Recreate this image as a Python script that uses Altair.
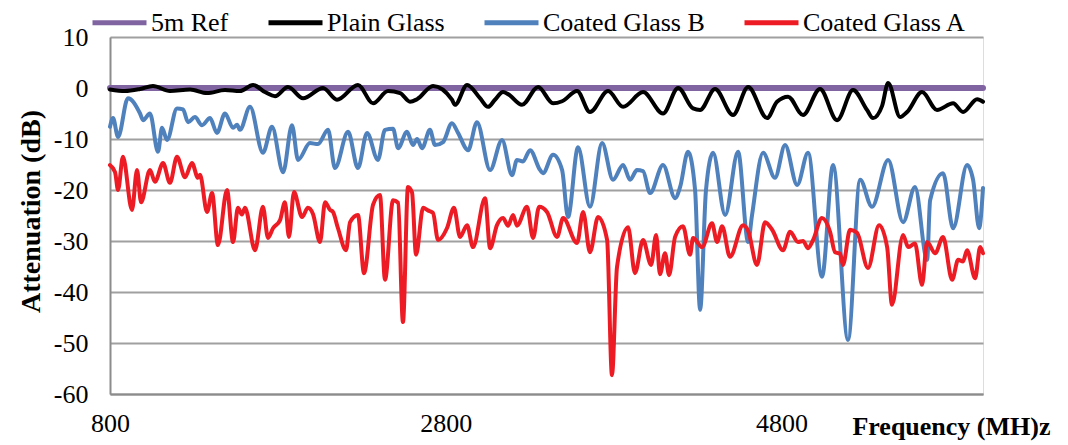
import altair as alt
import pandas as pd

series_names = ["5m Ref", "Plain Glass", "Coated Glass B", "Coated Glass A"]
series_colors = ["#8064A2", "#000000", "#4F81BD", "#ED1C24"]

x_ticks = [800, 2800, 4800]

freq_ref = [800, 6000]
att_ref = [0, 0]

freq_plain = [800, 889, 979, 1056, 1157, 1277, 1378, 1485, 1574, 1652, 1723, 1783, 1860, 1950,
              2069, 2152, 2277, 2367, 2456, 2528, 2587, 2629, 2724, 2837, 2855, 2927, 3004, 3052,
              3093, 3141, 3171, 3254, 3350, 3439, 3493, 3582, 3659, 3767, 3856, 3975, 4094, 4184,
              4273, 4315, 4404, 4511, 4601, 4714, 4773, 4839, 4928, 5029, 5131, 5226, 5309, 5345,
              5399, 5435, 5506, 5548, 5637, 5726, 5822, 5881, 5965, 6000]
att_plain = [-0.3, -0.6, -0.2, 0.4, -0.6, -0.3, -1.0, -0.4, -0.6, 0.6, -0.8, -1.6, 0.2, -2.0,
             0.0, -2.3, 0.6, -3.0, -0.6, -1.0, -2.7, -2.2, 0.4, -2.3, -3.3, 0.6, -2.0, -3.7,
             -2.3, -0.8, -1.2, -3.3, 0.2, -3.0, -2.6, -0.6, -4.7, -0.6, -3.7, -0.8, -5.0, 0.0,
             -4.0, -4.3, -0.2, -5.3, 0.2, -5.9, -2.7, -1.7, -5.3, -0.2, -6.3, -0.4, -4.3, -5.9,
             -3.5, 1.0, -5.7, -4.7, -0.8, -4.3, -3.0, -4.7, -2.2, -2.7]

freq_b = [800, 818, 848, 907, 979, 997, 1038, 1086, 1110, 1140, 1199, 1235, 1265, 1306, 1348,
          1396, 1437, 1485, 1533, 1557, 1574, 1634, 1711, 1765, 1831, 1884, 1920, 1991, 2039,
          2099, 2140, 2218, 2277, 2331, 2396, 2438, 2486, 2516, 2569, 2605, 2629, 2659, 2706,
          2736, 2784, 2837, 2873, 2933, 2986, 3064, 3135, 3195, 3224, 3260, 3302, 3362, 3379,
          3439, 3493, 3528, 3588, 3659, 3731, 3796, 3856, 3898, 3939, 3975, 4017, 4094, 4166,
          4196, 4243, 4285, 4315, 4350, 4392, 4464, 4541, 4601, 4624, 4690, 4761, 4821, 4893,
          4958, 5041, 5107, 5196, 5268, 5339, 5435, 5524, 5595, 5667, 5685, 5762, 5822, 5905,
          5941, 5977, 6000]
att_b = [-7.6, -5.9, -9.6, -2.0, -5.0, -6.3, -5.0, -12.5, -7.8, -10.2, -4.0, -4.2, -6.7, -5.7, -7.3,
         -5.9, -8.8, -5.0, -7.8, -7.2, -8.2, -3.7, -12.7, -7.6, -16.5, -7.3, -14.1, -10.8, -11.0,
         -8.2, -15.7, -8.6, -15.7, -8.8, -14.1, -8.2, -8.0, -11.8, -8.6, -11.2, -10.0, -11.8, -8.2,
         -11.2, -10.6, -6.9, -8.8, -12.2, -6.7, -16.1, -10.2, -17.1, -14.1, -14.4, -12.2, -16.1, -16.7,
         -13.1, -16.1, -25.3, -11.6, -23.3, -10.8, -18.0, -15.1, -18.0, -16.1, -16.3, -20.6, -15.1, -21.6,
         -19.4, -12.5, -20.0, -43.5, -20.0, -12.7, -24.9, -12.5, -30.2, -25.0, -12.7, -17.6, -11.2, -19.0,
         -12.7, -37.0, -15.1, -49.4, -18.0, -23.3, -14.1, -26.3, -19.4, -33.7, -22.0, -16.7, -27.5, -15.1,
         -18.0, -27.5, -19.6]

freq_a = [800, 830, 848, 877, 931, 961, 985, 1038, 1068, 1116, 1157, 1199, 1247, 1288, 1324, 1336,
          1378, 1408, 1443, 1497, 1533, 1562, 1586, 1604, 1664, 1711, 1741, 1771, 1813, 1842, 1866,
          1896, 1944, 1979, 2009, 2051, 2081, 2111, 2128, 2158, 2206, 2230, 2277, 2313, 2367, 2408,
          2438, 2486, 2516, 2545, 2575, 2599, 2623, 2665, 2694, 2724, 2754, 2807, 2849, 2885, 2927,
          2962, 3034, 3064, 3105, 3141, 3171, 3201, 3224, 3284, 3320, 3356, 3403, 3463, 3499, 3582,
          3618, 3659, 3707, 3761, 3790, 3820, 3886, 3927, 3975, 4023, 4053, 4076, 4106, 4130, 4166,
          4213, 4255, 4273, 4327, 4386, 4416, 4446, 4493, 4571, 4601, 4654, 4702, 4744, 4809, 4851,
          4898, 4928, 4958, 4988, 5041, 5089, 5119, 5149, 5166, 5208, 5250, 5315, 5381, 5429, 5458,
          5524, 5554, 5595, 5637, 5667, 5715, 5762, 5816, 5852, 5881, 5905, 5953, 5983, 6000]
att_a = [-15.1, -16.5, -20.0, -13.5, -23.9, -16.1, -22.4, -16.1, -18.4, -14.7, -18.6, -13.5, -17.5,
         -14.7, -17.6, -17.0, -24.3, -20.6, -30.8, -20.0, -30.2, -23.5, -24.8, -23.5, -31.8, -23.3,
         -29.4, -27.5, -25.9, -22.4, -29.2, -20.4, -25.3, -23.5, -24.7, -30.2, -22.4, -23.9, -24.3,
         -27.5, -31.8, -26.3, -24.9, -36.3, -22.9, -21.0, -37.6, -22.0, -22.5, -45.9, -19.4, -20.5,
         -32.7, -23.5, -24.0, -24.5, -29.8, -27.5, -23.5, -29.2, -26.9, -31.2, -21.6, -31.4, -26.9,
         -25.5, -27.0, -24.9, -27.0, -23.3, -29.4, -23.3, -24.3, -29.2, -25.5, -30.4, -24.3, -32.2,
         -25.3, -29.8, -56.3, -35.1, -27.3, -36.3, -29.8, -34.7, -28.8, -36.5, -32.4, -36.7, -29.2,
         -27.1, -32.7, -29.4, -31.2, -26.5, -30.2, -27.1, -33.1, -26.9, -28.0, -34.7, -26.3, -27.8,
         -31.8, -28.2, -30.2, -30.0, -31.4, -29.8, -25.5, -28.2, -32.2, -32.5, -34.7, -27.8, -28.4,
         -35.3, -26.9, -31.2, -42.5, -28.8, -31.2, -30.5, -38.6, -30.2, -32.4, -29.2, -37.6, -33.7,
         -34.0, -31.8, -37.3, -31.2, -32.4]


def frame(name, freqs, atts):
    return pd.DataFrame({"freq": freqs, "att": atts, "series": name})


dfs = [
    frame(series_names[0], freq_ref, att_ref),
    frame(series_names[1], freq_plain, att_plain),
    frame(series_names[2], freq_b, att_b),
    frame(series_names[3], freq_a, att_a),
]
widths = [6, 4, 4, 4]

FONT = "Liberation Serif"

x_enc = alt.X(
    "freq:Q",
    scale=alt.Scale(domain=[800, 6000], nice=False, zero=False),
    axis=alt.Axis(
        values=x_ticks, labelExpr="datum.value + ''", grid=False, ticks=False,
        domainColor="#8C8C8C", domainWidth=2, labelFont=FONT, labelFontSize=26,
        labelColor="#000000", labelPadding=16, labelFlush=False,
        title="Frequency (MH)z", titleFont=FONT, titleFontSize=26, titleFontWeight="bold",
        titleColor="#000000", titleAlign="right", titleBaseline="alphabetic",
        titleX=940, titleY=40, titleAnchor="end",
    ),
)
y_enc = alt.Y(
    "att:Q",
    scale=alt.Scale(domain=[-60, 10], nice=False, zero=False),
    axis=alt.Axis(
        values=[10, 0, -10, -20, -30, -40, -50, -60], labelExpr="datum.value + ''",
        grid=True, gridColor="#A0A0A0", gridWidth=2, ticks=False,
        domainColor="#8C8C8C", domainWidth=2, labelFont=FONT, labelFontSize=26,
        labelColor="#000000", labelPadding=22, labelFlush=False,
        title="Attenuation (dB)", titleFont=FONT, titleFontSize=28, titleFontWeight="bold",
        titleColor="#000000", titleX=-79, titleY=174, titleBaseline="middle", titleAngle=270,
        titleAlign="center",
    ),
)

color_enc = alt.Color(
    "series:N",
    scale=alt.Scale(domain=series_names, range=series_colors),
    legend=alt.Legend(
        orient="none", legendX=-20, legendY=-44, direction="horizontal", title=None,
        symbolType="stroke", symbolSize=2916, symbolStrokeWidth=5,
        labelFont=FONT, labelFontSize=26, labelColor="#000000", labelLimit=400,
        labelOffset=2, columnPadding=29,
    ),
)

layers = []
for df, w in zip(dfs, widths):
    layers.append(
        alt.Chart(df)
        .mark_line(strokeWidth=w, interpolate="monotone", strokeCap="round", strokeJoin="round")
        .encode(x=x_enc, y=y_enc, color=color_enc)
    )

chart = (
    alt.layer(*layers)
    .properties(
        width=873, height=357,
        autosize=alt.AutoSizeParams(type="none"),
        padding={"left": 102, "top": 29, "right": 77, "bottom": 50},
    )
    .configure_view(stroke=None)
    .configure(background="#ffffff")
)

chart.save("out.html", embed_options={"renderer": "svg", "actions": False})
